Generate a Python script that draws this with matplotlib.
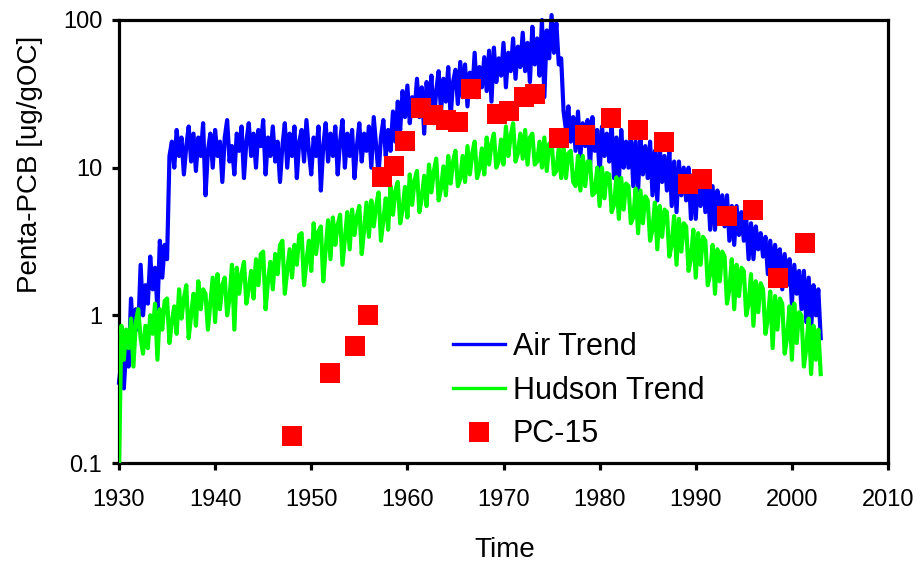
import numpy as np
import matplotlib.pyplot as plt

# Air trend, four readings per year from 1930.00 to 2003.00 (one row per year)
air_trend = [
    0.35, 0.5, 0.32, 0.6,
    0.45, 1.3, 0.7, 1.1,
    0.8, 2.2, 1.0, 1.6,
    1.2, 2.5, 1.5, 2.1,
    1.1, 3.2, 1.8, 3.0,
    2.4, 12, 15, 10,       # 1935
    18, 12, 16, 9,
    14, 19, 11, 17,
    9.5, 16, 12, 20,
    6.5, 13, 17, 10,
    18, 12, 15, 8,         # 1940
    16, 21, 11, 14,
    9, 17, 13, 19,
    8.5, 15, 20, 12,
    17, 10, 18, 14,
    21, 9, 16, 12,         # 1945
    19, 11, 15, 8,
    14, 20, 10, 17,
    12, 19, 8.5, 15,
    18, 11, 21, 13,
    9, 16, 12, 19,         # 1950
    7, 14, 20, 11,
    17, 12, 19, 9,
    15, 21, 10, 17,
    12, 18, 8.5, 14,
    20, 11, 17, 13,        # 1955
    19, 10, 22, 14,
    9, 16, 21, 12,
    18, 13, 24, 15,
    28, 18, 33, 22,
    36, 20, 30, 24,        # 1960
    40, 22, 35, 17,
    38, 25, 42, 20,
    33, 45, 24, 40,
    28, 48, 22, 38,
    46, 27, 52, 30,        # 1965
    50, 26, 44, 32,
    60, 30, 48, 35,
    56, 33, 62, 28,
    65, 38, 55, 42,
    70, 35, 60, 45,        # 1970
    75, 40, 66, 48,
    82, 45, 70, 38,
    90, 50, 75, 42,
    100, 30, 85, 55,
    108, 60, 95, 50,       # 1975
    55, 24, 18, 26,
    15, 22, 13, 24,
    12, 20, 14, 21,
    10, 22, 13, 18,
    9, 19, 12, 17,         # 1980
    11, 20, 8.5, 16,
    8, 18, 10, 15,
    10, 17, 7.5, 15,
    7, 16, 9, 14,
    8.5, 15, 6.5, 13,      # 1985
    6, 14, 8, 12,
    7, 13, 5.5, 11,
    5, 11, 6.5, 10,
    6, 10, 4.5, 9,
    4.5, 9, 5.5, 8.5,      # 1990
    5, 8, 3.8, 7.5,
    3.8, 7, 4.5, 6.5,
    4, 6.5, 3.2, 5.5,
    3, 5.5, 3.5, 5,
    3.2, 4.5, 2.4, 4.2,    # 1995
    2.4, 4, 2.8, 3.6,
    2.5, 3.4, 1.9, 3.2,
    1.8, 3, 2.1, 2.8,
    1.5, 2.6, 1.6, 2.4,
    1.2, 2.2, 1.4, 2.0,    # 2000
    1.1, 2.0, 0.9, 1.8,
    0.8, 1.6, 1.0, 1.5,
    0.7,
]

# Hudson trend, same quarter-year steps
hudson_trend = [
    0.09, 0.85, 0.5, 0.8,
    0.6, 0.95, 0.45, 0.9,
    1.1, 0.7, 0.55, 0.85,
    0.6, 1.0, 0.75, 1.2,
    0.5, 1.1, 0.8, 1.25,
    1.3, 0.65, 0.9, 1.15,  # 1935
    0.75, 1.5, 0.95, 1.3,
    1.6, 0.7, 1.0, 1.4,
    0.85, 1.7, 1.1, 1.5,
    1.4, 0.8, 1.2, 1.8,
    0.9, 1.9, 1.1, 1.6,    # 1940
    1.8, 1.0, 1.3, 2.2,
    0.8, 2.1, 1.4, 1.9,
    2.3, 1.2, 1.5, 2.0,
    1.3, 2.4, 1.6, 2.6,
    2.7, 1.1, 1.7, 2.3,    # 1945
    1.5, 2.6, 1.9, 3.0,
    3.2, 1.4, 2.0, 2.8,
    1.8, 3.0, 2.2, 3.5,
    3.6, 1.6, 2.3, 3.2,
    2.0, 4.2, 2.6, 3.7,    # 1950
    4.0, 1.7, 2.8, 4.4,
    2.4, 4.6, 3.0, 4.1,
    4.8, 2.2, 3.3, 5.0,
    2.8, 5.2, 3.5, 4.7,
    5.5, 2.6, 3.8, 5.8,    # 1955
    3.4, 6.0, 4.0, 5.5,
    6.8, 3.2, 4.4, 6.2,
    3.8, 7.5, 4.8, 7.0,
    8.0, 4.2, 5.2, 7.4,
    4.6, 9.0, 5.6, 8.2,    # 1960
    9.5, 5.0, 6.2, 8.8,
    5.5, 10.5, 6.8, 9.4,
    11.5, 6.0, 7.2, 10.2,
    6.5, 12, 7.8, 11,
    13, 7.5, 8.4, 12,      # 1965
    8.0, 14, 9.0, 12.5,
    15, 8.5, 9.8, 13.5,
    9.0, 16, 10.5, 14.5,
    17, 10, 11, 15.5,
    10.5, 19, 12, 16.5,    # 1970
    20, 11, 12.5, 17,
    11.5, 18, 10.5, 16,
    17, 10.5, 11, 15,
    10, 16, 9.5, 14.5,
    15, 9, 9.5, 13.5,      # 1975
    8.5, 14, 8.5, 12.5,
    13, 8, 7.5, 12,
    7, 12, 7.5, 11,
    11, 6.5, 6.8, 10,
    5.5, 10, 6.2, 9.2,     # 1980
    9, 5.0, 5.6, 8.6,
    4.5, 8.5, 5.2, 7.8,
    7.5, 4.2, 4.6, 7.2,
    3.6, 7, 4.2, 6.4,
    6, 3.2, 3.8, 5.8,      # 1985
    2.8, 5.5, 3.4, 5.2,
    5, 2.5, 3.0, 4.7,
    2.2, 4.5, 2.7, 4.2,
    4, 2.0, 2.4, 3.8,
    1.8, 3.6, 2.2, 3.4,    # 1990
    3.2, 1.6, 1.9, 3.0,
    1.4, 2.8, 1.7, 2.7,
    2.5, 1.2, 1.5, 2.4,
    1.1, 2.2, 1.35, 2.1,
    2.0, 1.0, 1.2, 1.9,    # 1995
    0.85, 1.7, 1.05, 1.65,
    1.5, 0.75, 0.95, 1.45,
    0.6, 1.35, 0.8, 1.3,
    1.2, 0.55, 0.7, 1.15,
    0.5, 1.2, 0.65, 1.05,  # 2000
    1.0, 0.45, 0.6, 0.95,
    0.4, 0.85, 0.5, 0.8,
    0.4,
]

# PC-15 core samples
pc15_year = [1948.0, 1951.9, 1954.6, 1955.9, 1957.4, 1958.6, 1959.8, 1961.4,
             1962.7, 1964.0, 1965.3, 1966.6, 1969.3, 1970.6, 1972.1, 1973.3,
             1975.8, 1978.5, 1981.2, 1984.0, 1986.7, 1989.2, 1990.6, 1993.3,
             1996.0, 1998.6, 2001.4]
pc15_value = [0.152, 0.41, 0.62, 1.0, 8.7, 10.2, 15.2, 25.4,
              22.8, 21.1, 20.4, 34, 23, 24.3, 30, 31.6,
              16, 16.7, 21.8, 18, 15, 7.7, 8.4, 4.7,
              5.2, 1.8, 3.1]

x_ticks = [1930, 1940, 1950, 1960, 1970, 1980, 1990, 2000, 2010]
y_ticks = [0.1, 1, 10, 100]
y_tick_labels = ["0.1", "1", "10", "100"]

plt.rcParams["font.family"] = ["Liberation Sans", "DejaVu Sans"]

fig = plt.figure(figsize=(9.21, 5.69), dpi=100)
ax = fig.add_axes([119 / 921, 1 - 463 / 569, 769 / 921, 443 / 569])

t_air = 1930 + 0.25 * np.arange(len(air_trend))
t_hud = 1930 + 0.25 * np.arange(len(hudson_trend))

ax.plot(t_air, air_trend, color="#0000FF", lw=3.0, label="Air Trend",
        zorder=2, clip_on=False)
ax.plot(t_hud, hudson_trend, color="#00FF00", lw=3.0, label="Hudson Trend", zorder=3)
ax.plot(pc15_year, pc15_value, "s", color="#FF0000", ms=14, mew=0,
        linestyle="none", label="PC-15", zorder=4)

ax.set_yscale("log")
ax.set_xlim(1930, 2010)
ax.set_ylim(0.1, 100)
ax.set_xticks(x_ticks)
ax.set_xticklabels([str(v) for v in x_ticks])
ax.set_yticks(y_ticks)
ax.set_yticklabels(y_tick_labels)
ax.minorticks_off()

for s in ax.spines.values():
    s.set_linewidth(2.3)
ax.tick_params(axis="both", width=2.3, length=5, labelsize=17, direction="out")
ax.tick_params(axis="x", pad=14)
ax.tick_params(axis="y", pad=7)

ax.set_xlabel("Time", fontsize=20)
ax.set_ylabel("Penta-PCB [ug/gOC]", fontsize=20)
ax.xaxis.set_label_coords(0.502, -0.166)
ax.yaxis.set_label_coords(-0.099, 0.673)

leg = ax.legend(loc="upper left", bbox_to_anchor=(453 / 921, 1 - 332 / 569),
                bbox_transform=fig.transFigure, frameon=False, fontsize=22,
                handlelength=1.7, handletextpad=0.25, labelspacing=0.45,
                borderpad=0, borderaxespad=0)
for h in leg.get_lines():
    h.set_linewidth(2.4)

fig.savefig("out.png", dpi=100)
